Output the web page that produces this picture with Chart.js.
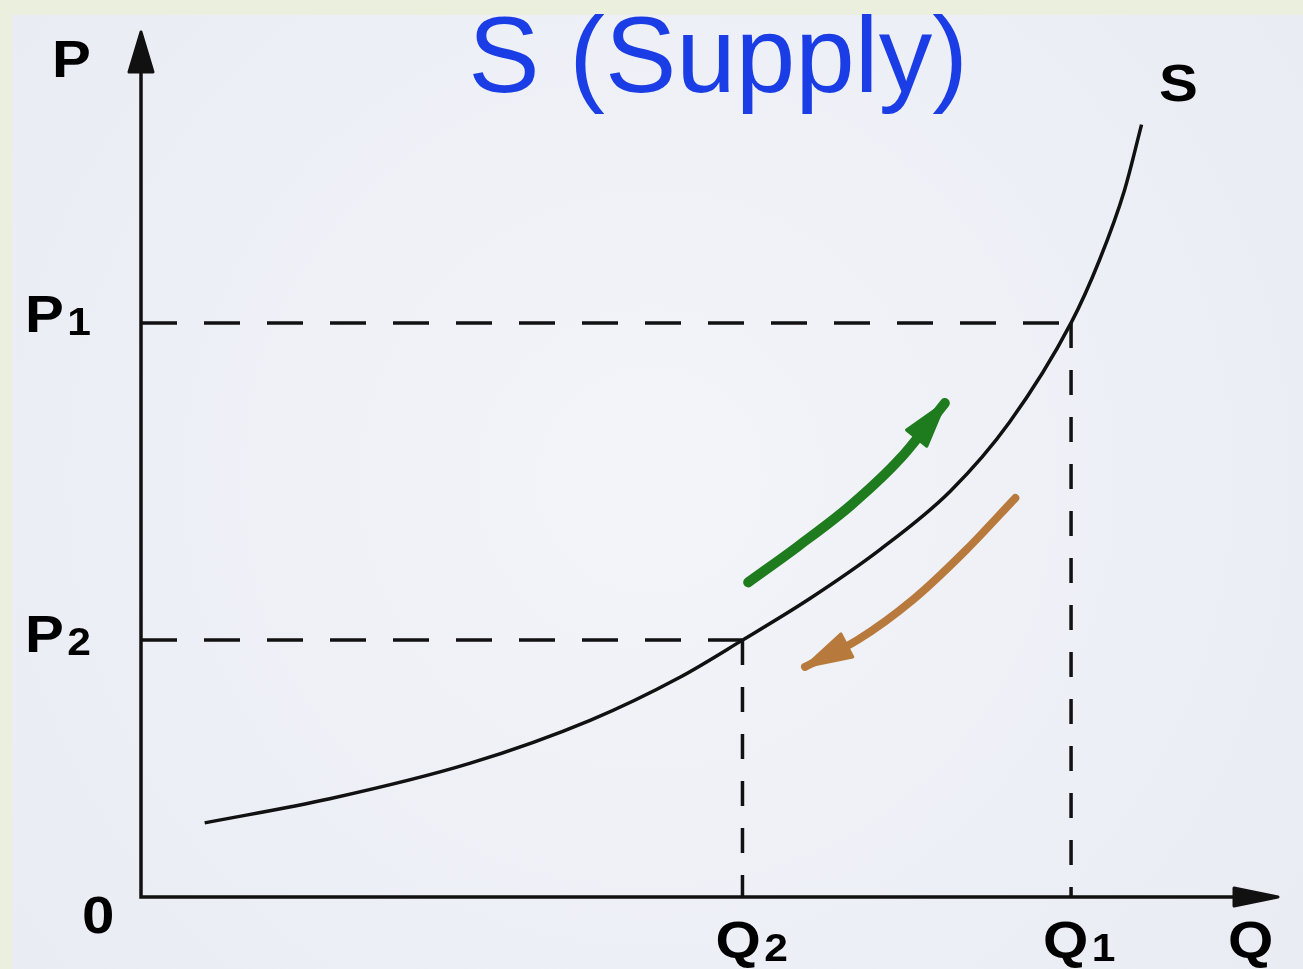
<!DOCTYPE html>
<html>
<head>
<meta charset="utf-8">
<script src="https://cdn.jsdelivr.net/npm/chart.js@4.4.1/dist/chart.umd.min.js"></script>
<style>
html, body { margin: 0; padding: 0; background: #ebf0de; }
canvas { display: block; }
</style>
</head>
<body>
<canvas id="chartSupply" width="1303" height="969"></canvas>
<script>
// supply curve (quantity / price), 0-100 scale
var supplyQ = [5.6, 16.6, 28.9, 39.5, 47.4, 52.9, 58.8, 65.0, 71.2, 76.4, 81.8, 84.3, 86.5, 88.0];
var supplyP = [8.6, 11.4, 15.5, 20.5, 25.5, 29.8, 34.6, 40.3, 47.1, 55.1, 66.6, 73.9, 82.0, 89.6];

var q1 = 81.8, p1 = 66.6;
var q2 = 52.9, p2 = 29.8;

// movement arrows along the curve
var riseQ = [53.4, 57.8, 62.4, 66.8, 70.7];
var riseP = [36.5, 40.7, 45.4, 50.9, 57.3];
var fallQ = [76.9, 72.6, 67.9, 63.0, 58.4];
var fallP = [46.3, 40.3, 34.5, 29.8, 26.7];

var font = '"Liberation Sans", Arial, sans-serif';

function pts(xs, ys) {
    return xs.map(function (x, i) { return { x: x, y: ys[i] }; });
}

function head(ctx, tip, from, len, half, color) {
    var dx = tip.x - from.x, dy = tip.y - from.y;
    var d = Math.sqrt(dx * dx + dy * dy);
    dx /= d; dy /= d;
    var bx = tip.x - dx * len, by = tip.y - dy * len;
    ctx.beginPath();
    ctx.moveTo(tip.x, tip.y);
    ctx.lineTo(bx - dy * half, by + dx * half);
    ctx.lineTo(bx + dy * half, by - dx * half);
    ctx.closePath();
    ctx.fillStyle = color;
    ctx.strokeStyle = color;
    ctx.lineJoin = 'round';
    ctx.lineWidth = 3;
    ctx.fill();
    ctx.stroke();
}

function label(ctx, main, sub, x, y) {
    ctx.save();
    ctx.translate(x, y);
    ctx.scale(1.12, 1);
    ctx.fillStyle = '#000';
    ctx.textBaseline = 'alphabetic';
    ctx.font = 'bold 52px ' + font;
    ctx.fillText(main, 0, 0);
    if (sub) {
        var w = ctx.measureText(main).width;
        ctx.font = 'bold 38px ' + font;
        ctx.fillText(sub, w + 3, 3);
    }
    ctx.restore();
}

var backdrop = {
    id: 'backdrop',
    beforeDraw: function (chart) {
        var ctx = chart.ctx;
        var g = ctx.createRadialGradient(650, 480, 50, 650, 480, 800);
        g.addColorStop(0, '#f2f4f9');
        g.addColorStop(1, '#e9ecf3');
        ctx.save();
        ctx.fillStyle = '#ebf0de';
        ctx.fillRect(0, 0, chart.width, chart.height);
        ctx.fillStyle = g;
        ctx.fillRect(12, 15, chart.width - 12, chart.height - 15);
        ctx.restore();
    }
};

var axes = {
    id: 'axes',
    afterDatasetsDraw: function (chart) {
        var ctx = chart.ctx;
        var xs = chart.scales.x, ys = chart.scales.y;
        var x0 = xs.getPixelForValue(0), y0 = ys.getPixelForValue(0);
        var top = chart.chartArea.top - 3, right = chart.chartArea.right;
        ctx.save();
        ctx.strokeStyle = '#111';
        ctx.lineWidth = 3.5;
        ctx.beginPath();
        ctx.moveTo(x0, top + 30);
        ctx.lineTo(x0, y0);
        ctx.lineTo(right - 30, y0);
        ctx.stroke();
        head(ctx, { x: x0, y: top }, { x: x0, y: y0 }, 40, 12, '#111');
        head(ctx, { x: right, y: y0 }, { x: x0, y: y0 }, 44, 9, '#111');

        // arrow heads on the two movement arrows
        [[1, '#1e7b1e', 45, 13], [2, '#b87a3c', 47, 13]].forEach(function (a) {
            var el = chart.getDatasetMeta(a[0]).data;
            var n = el.length;
            head(ctx, el[n - 1], el[n - 2], a[2], a[3], a[1]);
        });

        // labels
        label(ctx, 'P', '', x0 - 89, top + 45);
        label(ctx, 'P', '1', x0 - 116, ys.getPixelForValue(p1) + 9);
        label(ctx, 'P', '2', x0 - 116, ys.getPixelForValue(p2) + 12);
        label(ctx, '0', '', x0 - 59, y0 + 36);
        label(ctx, 'Q', '2', xs.getPixelForValue(q2) - 27, y0 + 61);
        label(ctx, 'Q', '1', xs.getPixelForValue(q1) - 28, y0 + 61);
        label(ctx, 'Q', '', right - 50, y0 + 61);
        label(ctx, 'S', '', 1159, 101);

        ctx.fillStyle = '#1b3de6';
        ctx.font = '107px ' + font;
        ctx.textAlign = 'center';
        ctx.fillText('S (Supply)', 718, 92);
        ctx.restore();
    }
};

var dashH = [36, 27], dashV = [25, 22];

new Chart(document.getElementById('chartSupply'), {
    type: 'line',
    plugins: [backdrop, axes],
    data: {
        datasets: [{
            data: pts(supplyQ, supplyP),
            borderColor: '#111',
            borderWidth: 3.5,
            cubicInterpolationMode: 'monotone'
        }, {
            data: pts(riseQ, riseP),
            borderColor: '#1e7b1e',
            borderWidth: 10,
            borderCapStyle: 'round',
            cubicInterpolationMode: 'monotone'
        }, {
            data: pts(fallQ, fallP),
            borderColor: '#b87a3c',
            borderWidth: 8,
            borderCapStyle: 'round',
            cubicInterpolationMode: 'monotone'
        }, {
            data: [{ x: 0, y: p1 }, { x: q1, y: p1 }],
            borderColor: '#111',
            borderWidth: 3.5,
            borderDash: dashH
        }, {
            data: [{ x: q1, y: p1 }, { x: q1, y: 0 }],
            borderColor: '#111',
            borderWidth: 3.5,
            borderDash: dashV
        }, {
            data: [{ x: 0, y: p2 }, { x: q2, y: p2 }],
            borderColor: '#111',
            borderWidth: 3.5,
            borderDash: dashH
        }, {
            data: [{ x: q2, y: p2 }, { x: q2, y: 0 }],
            borderColor: '#111',
            borderWidth: 3.5,
            borderDash: dashV
        }]
    },
    options: {
        responsive: false,
        animation: false,
        layout: { padding: { left: 141, right: 25, top: 35, bottom: 72 } },
        elements: { point: { radius: 0, hoverRadius: 0 } },
        plugins: {
            legend: { display: false },
            title: { display: false },
            tooltip: { enabled: false }
        },
        scales: {
            x: { type: 'linear', min: 0, max: 100, display: false },
            y: { type: 'linear', min: 0, max: 100, display: false }
        }
    }
});
</script>
</body>
</html>
